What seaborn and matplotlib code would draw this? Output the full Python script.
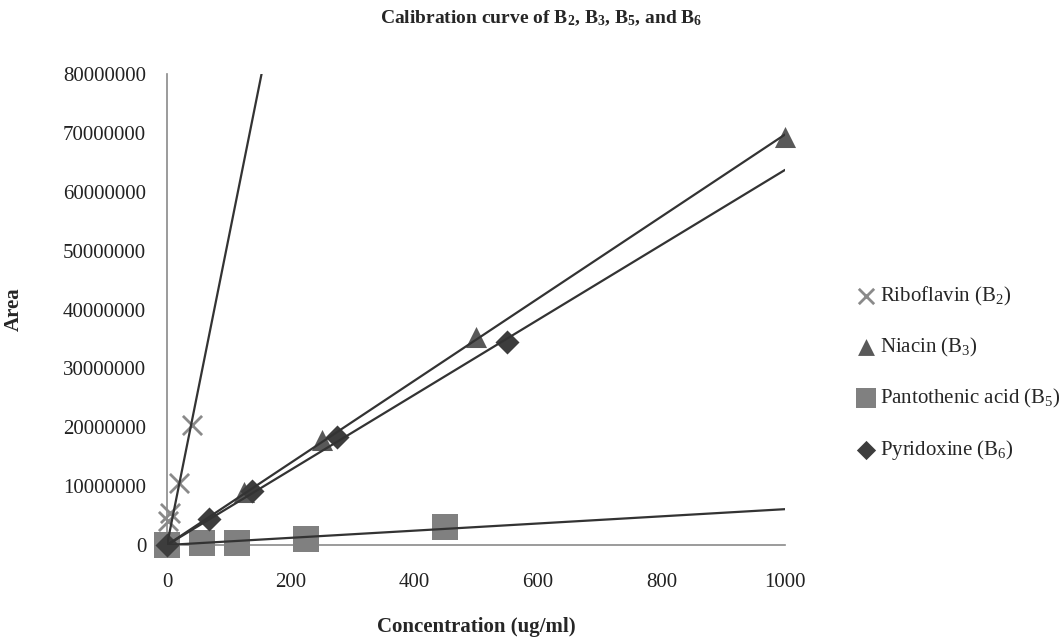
import numpy as np
import pandas as pd
import matplotlib
matplotlib.use("Agg")
import matplotlib.pyplot as plt
import seaborn as sns

# values
rib_x = [0, 2, 5, 20, 40]
rib_y = [0, 4.0e6, 5.4e6, 10.5e6, 20.4e6]
nia_x = [0, 125, 250, 500, 1000]
nia_y = [0, 9.0e6, 17.9e6, 35.4e6, 69.3e6]
pan_x = [0, 56.25, 112.5, 225, 450]
pan_y = [0, 0.3e6, 0.4e6, 1.0e6, 3.0e6]
pyr_x = [0, 68.75, 137.5, 275, 550]
pyr_y = [0, 4.5e6, 9.1e6, 18.4e6, 34.5e6]

labels = ["Riboflavin (B$_2$)", "Niacin (B$_3$)",
          "Pantothenic acid (B$_5$)", "Pyridoxine (B$_6$)"]
x_ticks = [0, 200, 400, 600, 800, 1000]
y_ticks = [0, 10000000, 20000000, 30000000, 40000000,
           50000000, 60000000, 70000000, 80000000]

sns.set_style("white")
plt.rcParams['font.family'] = ['Liberation Serif', 'DejaVu Serif']
plt.rcParams['mathtext.fontset'] = 'custom'
plt.rcParams['mathtext.rm'] = 'Liberation Serif'
plt.rcParams['mathtext.it'] = 'Liberation Serif:italic'
plt.rcParams['mathtext.bf'] = 'Liberation Serif:bold'

fig = plt.figure(figsize=(10.63, 6.37), dpi=100)
ax = fig.add_axes([167 / 1063, 1 - 545 / 637, 618 / 1063, 471 / 637])

series = [
    (rib_x, rib_y, labels[0], 'x', '#8a8a8a', 190, 2.0),
    (nia_x, nia_y, labels[1], '^', '#595959', 230, 0),
    (pan_x, pan_y, labels[2], 's', '#808080', 330, 0),
    (pyr_x, pyr_y, labels[3], 'D', '#3d3d3d', 150, 0),
]

# markers
for xs, ys, lab, mk, col, size, lw in series:
    df = pd.DataFrame({'conc': xs, 'area': ys})
    if mk == 'x':
        sns.scatterplot(data=df, x='conc', y='area', ax=ax, marker=mk, color=col,
                        s=size, linewidth=lw, label=lab, clip_on=False, zorder=3)
    else:
        sns.scatterplot(data=df, x='conc', y='area', ax=ax, marker=mk, color=col,
                        s=size, linewidth=0, label=lab, clip_on=False, zorder=3)

# linear trend lines through the origin
for xs, ys, lab, mk, col, size, lw in series:
    xa = np.array(xs, dtype=float)
    ya = np.array(ys, dtype=float)
    slope = np.dot(xa, ya) / np.dot(xa, xa)
    line_x = np.array([0.0, 1000.0])
    sns.lineplot(x=line_x, y=slope * line_x, ax=ax, color='#333333',
                 linewidth=1.6, zorder=4, legend=False)

ax.set_xlim(0, 1000)
ax.set_ylim(0, 80000000)
ax.set_xticks(x_ticks)
ax.set_yticks(y_ticks)
ax.set_yticklabels([str(v) for v in y_ticks])
ax.tick_params(axis='both', length=0, labelsize=15, colors='#222222')
ax.tick_params(axis='x', pad=20)
ax.tick_params(axis='y', pad=15)

sns.despine(ax=ax, top=True, right=True)
for side in ['left', 'bottom']:
    ax.spines[side].set_color('#8a8a8a')
    ax.spines[side].set_linewidth(1.2)

ax.set_xlabel('Concentration (ug/ml)', fontsize=15, fontweight='bold', labelpad=18)
ax.set_ylabel('Area', fontsize=15, fontweight='bold', labelpad=28)

fig.text(541 / 1063, 1 - 18 / 637,
         r'Calibration curve of B$_\mathbf{2}$, B$_\mathbf{3}$, B$_\mathbf{5}$, and B$_\mathbf{6}$',
         ha='center', va='center', fontsize=14, fontweight='bold')

leg = ax.legend(loc='center left', bbox_to_anchor=(1.08, 0.364), frameon=False,
                fontsize=15, labelspacing=1.35, handletextpad=0.1,
                handlelength=1.2, markerscale=0.8)

fig.savefig('out.png', dpi=100)
